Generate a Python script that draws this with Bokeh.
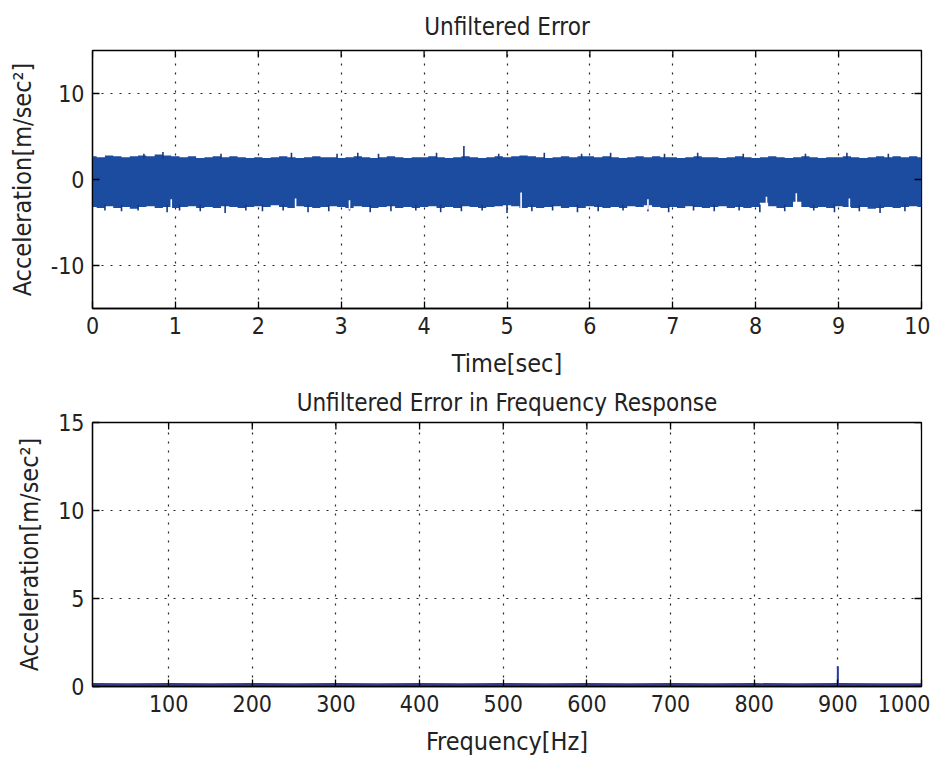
from bokeh.plotting import figure
from bokeh.layouts import column
from bokeh.models import FixedTicker, Range1d
from bokeh.embed import file_html
from bokeh.resources import INLINE
import numpy as np

# ---------------- data ----------------
# top panel: envelope of the unfiltered error signal, sampled every 0.1 s
t_env = np.round(np.arange(101) * 0.1, 1)
upper_env = [2.7, 2.6, 2.8, 2.7, 2.6, 2.7, 2.8, 2.7, 2.9, 2.8,
             2.7, 2.6, 2.7, 2.5, 2.6, 2.7, 2.6, 2.7, 2.6, 2.5,
             2.6, 2.5, 2.6, 2.7, 2.6, 2.5, 2.6, 2.7, 2.6, 2.6,
             2.5, 2.6, 2.7, 2.6, 2.5, 2.6, 2.7, 2.6, 2.5, 2.6,
             2.6, 2.7, 2.6, 2.5, 2.6, 2.7, 2.6, 2.5, 2.6, 2.7,
             2.6, 2.7, 2.8, 2.7, 2.6, 2.5, 2.6, 2.7, 2.6, 2.7,
             2.7, 2.6, 2.7, 2.6, 2.5, 2.6, 2.7, 2.6, 2.7, 2.6,
             2.6, 2.5, 2.6, 2.7, 2.6, 2.6, 2.5, 2.6, 2.7, 2.6,
             2.5, 2.6, 2.7, 2.6, 2.5, 2.6, 2.7, 2.6, 2.5, 2.6,
             2.6, 2.7, 2.6, 2.5, 2.6, 2.7, 2.6, 2.7, 2.6, 2.7, 2.6]
lower_env = [-3.2, -3.3, -3.1, -3.3, -3.2, -3.4, -3.2, -3.1, -3.3, -3.2,
             -3.3, -3.2, -3.1, -3.3, -3.2, -3.3, -3.1, -3.2, -3.3, -3.2,
             -3.1, -3.2, -3.0, -3.2, -3.3, -3.1, -3.2, -3.3, -3.2, -3.1,
             -3.2, -3.3, -3.1, -3.2, -3.3, -3.2, -3.1, -3.3, -3.2, -3.3,
             -3.2, -3.1, -3.3, -3.2, -3.3, -3.1, -3.2, -3.3, -3.2, -3.1,
             -3.0, -3.1, -3.3, -3.2, -3.3, -3.2, -3.1, -3.3, -3.2, -3.3,
             -3.1, -3.2, -3.3, -3.2, -3.3, -3.1, -3.2, -3.0, -3.2, -3.3,
             -3.2, -3.3, -3.1, -3.2, -3.3, -3.2, -3.1, -3.3, -3.2, -3.3,
             -3.2, -2.7, -3.1, -3.3, -3.2, -2.6, -3.2, -3.3, -3.2, -3.3,
             -3.1, -3.2, -3.3, -3.2, -3.4, -3.3, -3.2, -3.3, -3.2, -3.1, -3.2]

# isolated peaks above / below the band
spike_up_t = [0.62, 0.85, 1.55, 2.4, 2.95, 3.2, 3.45, 4.15, 4.48, 4.9,
              5.45, 5.9, 6.25, 6.9, 7.3, 7.85, 8.6, 9.1, 9.6]
spike_up_y = [3.0, 3.2, 3.0, 3.1, 3.0, 3.1, 3.0, 3.1, 3.9, 3.0,
              3.1, 3.0, 3.1, 3.0, 3.1, 3.0, 3.0, 3.1, 3.0]
spike_dn_t = [0.15, 0.35, 0.55, 0.9, 1.05, 1.3, 1.6, 1.85, 2.05, 2.3,
              2.6, 2.85, 3.1, 3.35, 3.6, 3.9, 4.2, 4.45, 4.7, 5.0,
              5.3, 5.55, 5.85, 6.1, 6.4, 6.7, 6.95, 7.25, 7.5, 7.8,
              8.05, 8.35, 8.7, 8.95, 9.25, 9.5, 9.8]
spike_dn_y = [-3.6, -3.7, -3.6, -3.8, -3.6, -3.7, -3.9, -3.6, -3.7, -3.6,
              -3.8, -3.7, -3.6, -3.8, -3.7, -3.6, -3.8, -3.7, -3.6, -3.9,
              -3.7, -3.6, -3.8, -3.7, -3.6, -3.7, -3.8, -3.6, -3.7, -3.6,
              -3.8, -3.7, -3.6, -3.8, -3.7, -3.9, -3.7]
# narrow gaps reaching into the band from below
notch_t = [0.95, 2.45, 3.1, 5.17, 6.7, 8.13, 8.49, 9.13]
notch_y = [-2.3, -2.2, -2.4, -1.5, -2.3, -2.0, -1.6, -2.2]

# bottom panel: spectrum of the error (flat floor + one line at 900 Hz)
freq = [9, 50, 100, 150, 200, 250, 300, 350, 400, 450, 500, 550, 600, 650,
        700, 750, 800, 850, 900, 950, 1000]
amp = [0.08, 0.07, 0.08, 0.07, 0.08, 0.07, 0.08, 0.07, 0.08, 0.07, 0.08, 0.07,
       0.08, 0.07, 0.08, 0.07, 0.08, 0.07, 0.08, 0.07, 0.07]
peak_freq = [900]
peak_amp = [1.15]

time_ticks = [0, 1, 2, 3, 4, 5, 6, 7, 8, 9, 10]
top_yticks = [-10, 0, 10]
freq_ticks = [100, 200, 300, 400, 500, 600, 700, 800, 900, 1000]
bot_yticks = [0, 5, 10, 15]

# ---------------- styling ----------------
FONT = "'Liberation Sans Narrow', 'DejaVu Sans Condensed', 'Liberation Sans', sans-serif"
BLUE = "#1c4ca0"
DARK = "#1a3a80"
TICK_PX = 7
FRAME_W = 829


def style(p, xticks, yticks, xlabel, ylabel, frame_h, xlabel_standoff):
    p.title.align = "center"
    p.title.text_font = FONT
    p.title.text_font_size = "24px"
    p.title.text_font_style = "normal"
    p.title.text_color = "#222222"
    p.outline_line_color = "black"
    p.outline_line_width = 1.3
    p.background_fill_color = "white"
    p.border_fill_color = "white"
    for g, t in ((p.xgrid[0], xticks), (p.ygrid[0], yticks)):
        g.ticker = FixedTicker(ticks=t)
        g.grid_line_color = "black"
        g.grid_line_dash = "2 7"
        g.grid_line_width = 1.2
        g.grid_line_alpha = 0.85
    xa, ya = p.below[0], p.left[0]
    for ax, t, lab in ((xa, xticks, xlabel), (ya, yticks, ylabel)):
        ax.ticker = FixedTicker(ticks=t)
        ax.axis_label = lab
        ax.major_label_overrides = {v: str(v) for v in t}
        ax.major_tick_in = TICK_PX
        ax.major_tick_out = 0
        ax.minor_tick_line_color = None
        ax.axis_line_color = "black"
        ax.axis_line_width = 1.3
        ax.major_tick_line_color = "black"
        ax.major_tick_line_width = 1.3
        ax.major_label_text_font = FONT
        ax.major_label_text_font_size = "23px"
        ax.major_label_text_color = "#222222"
        ax.axis_label_text_font = FONT
        ax.axis_label_text_font_size = "25px"
        ax.axis_label_text_font_style = "normal"
        ax.axis_label_text_color = "#222222"
        ax.major_label_standoff = 8
    ya.axis_label_standoff = 11
    xa.axis_label_standoff = xlabel_standoff
    # mirrored tick marks on the top and right edges of the frame
    x0, x1 = p.x_range.start, p.x_range.end
    y0, y1 = p.y_range.start, p.y_range.end
    dy = TICK_PX * (y1 - y0) / frame_h
    dx = TICK_PX * (x1 - x0) / FRAME_W
    p.segment(x0=xticks, y0=[y1] * len(xticks), x1=xticks, y1=[y1 - dy] * len(xticks),
              line_color="black", line_width=1.3)
    p.segment(x0=[x1] * len(yticks), y0=yticks, x1=[x1 - dx] * len(yticks), y1=yticks,
              line_color="black", line_width=1.3)


# ---------------- top panel ----------------
p1 = figure(width=930, height=380, output_backend="svg", toolbar_location=None,
            title="Unfiltered Error",
            x_range=Range1d(0, 10), y_range=Range1d(-15, 15),
            min_border_left=92, min_border_right=9,
            min_border_top=50, min_border_bottom=69)
p1.title.standoff = 20

p1.varea_step(x=t_env, y1=lower_env, y2=upper_env, step_mode="center",
              fill_color=BLUE)
p1.segment(x0=spike_up_t, y0=[2.4] * len(spike_up_t), x1=spike_up_t, y1=spike_up_y,
           line_color=DARK, line_width=1.6)
p1.segment(x0=spike_dn_t, y0=[-2.9] * len(spike_dn_t), x1=spike_dn_t, y1=spike_dn_y,
           line_color=DARK, line_width=1.6)
p1.segment(x0=notch_t, y0=[-3.5] * len(notch_t), x1=notch_t, y1=notch_y,
           line_color="white", line_width=1.6)
style(p1, time_ticks, top_yticks, "Time[sec]", "Acceleration[m/sec²]", 261, 12)

# ---------------- bottom panel ----------------
p2 = figure(width=930, height=378, output_backend="svg", toolbar_location=None,
            title="Unfiltered Error in Frequency Response",
            x_range=Range1d(9, 1000), y_range=Range1d(0, 15),
            min_border_left=92, min_border_right=9,
            min_border_top=40, min_border_bottom=68)
p2.title.standoff = 12

p2.line(freq, amp, line_color="#323a8e", line_width=4)
p2.segment(x0=peak_freq, y0=[0.1] * len(peak_freq), x1=peak_freq, y1=peak_amp,
           line_color="#2a3a9a", line_width=2)
style(p2, freq_ticks, bot_yticks, "Frequency[Hz]", "Acceleration[m/sec²]", 268, 12)

layout = column(p1, p2, spacing=0)
open("out.html", "w").write(file_html(layout, INLINE))
